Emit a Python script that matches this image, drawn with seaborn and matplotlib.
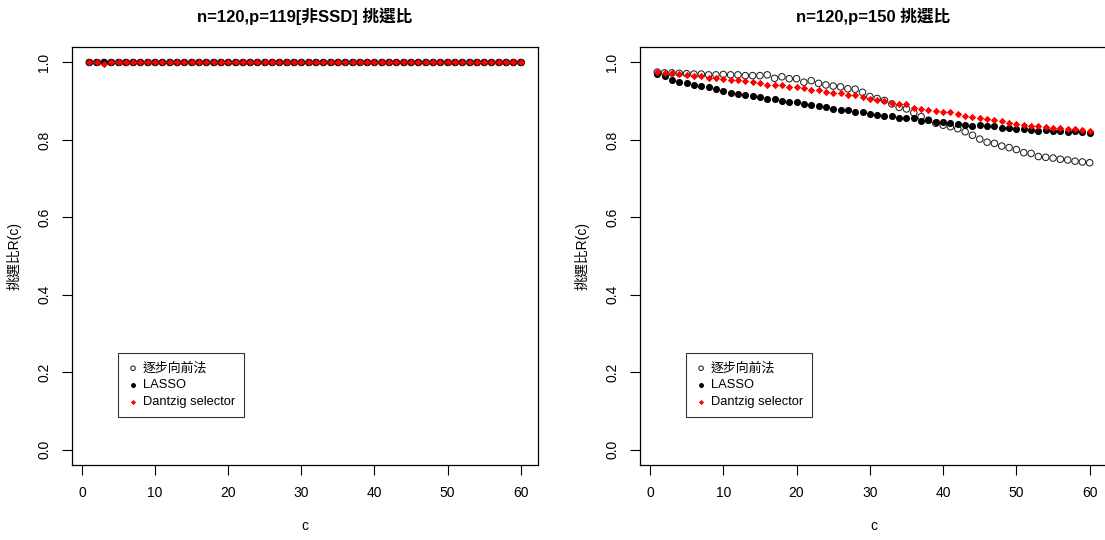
import matplotlib
matplotlib.use("Agg")
import matplotlib.pyplot as plt
import seaborn as sns
import pandas as pd
import numpy as np

# ---- data -------------------------------------------------------------
c_values = list(range(1, 61))

# n=120, p=119 (non-SSD): every method selects all active factors
left_stepwise = [1.0] * 60
left_lasso = [1.0] * 60
left_dantzig = [1.0, 1.0, 0.997] + [1.0] * 57

# n=120, p=150
right_stepwise = [
    0.975, 0.973, 0.973, 0.972, 0.971, 0.970, 0.970, 0.968, 0.968, 0.969,
    0.968, 0.968, 0.966, 0.966, 0.966, 0.968, 0.959, 0.963, 0.958, 0.958,
    0.949, 0.953, 0.946, 0.942, 0.939, 0.937, 0.932, 0.931, 0.923, 0.912,
    0.907, 0.902, 0.893, 0.884, 0.880, 0.870, 0.860, 0.851, 0.843, 0.838,
    0.834, 0.829, 0.821, 0.812, 0.802, 0.794, 0.791, 0.784, 0.780, 0.775,
    0.767, 0.765, 0.757, 0.755, 0.753, 0.750, 0.748, 0.745, 0.743, 0.741,
]
right_lasso = [
    0.969, 0.966, 0.954, 0.950, 0.946, 0.942, 0.940, 0.936, 0.932, 0.926,
    0.922, 0.919, 0.916, 0.914, 0.912, 0.906, 0.905, 0.901, 0.898, 0.898,
    0.892, 0.889, 0.887, 0.886, 0.879, 0.877, 0.877, 0.873, 0.872, 0.866,
    0.864, 0.861, 0.861, 0.857, 0.856, 0.857, 0.850, 0.852, 0.847, 0.847,
    0.844, 0.842, 0.838, 0.836, 0.838, 0.837, 0.836, 0.831, 0.831, 0.829,
    0.829, 0.825, 0.824, 0.825, 0.822, 0.823, 0.820, 0.822, 0.821, 0.819,
]
right_dantzig = [
    0.975, 0.973, 0.972, 0.970, 0.968, 0.966, 0.965, 0.961, 0.959, 0.958,
    0.956, 0.954, 0.953, 0.949, 0.946, 0.942, 0.941, 0.941, 0.937, 0.937,
    0.934, 0.930, 0.929, 0.925, 0.922, 0.920, 0.917, 0.915, 0.911, 0.906,
    0.904, 0.900, 0.895, 0.893, 0.892, 0.883, 0.881, 0.878, 0.874, 0.873,
    0.872, 0.868, 0.862, 0.859, 0.857, 0.855, 0.851, 0.848, 0.844, 0.841,
    0.839, 0.837, 0.836, 0.834, 0.832, 0.830, 0.829, 0.827, 0.825, 0.824,
]

method_names = ["逐步向前法", "LASSO", "Dantzig selector"]
titles = ["n=120,p=119[非SSD] 挑選比", "n=120,p=150 挑選比"]
x_ticks = [0, 10, 20, 30, 40, 50, 60]
y_ticks = [0.0, 0.2, 0.4, 0.6, 0.8, 1.0]
y_tick_labels = ["0.0", "0.2", "0.4", "0.6", "0.8", "1.0"]
x_label = "c"
y_label = "挑選比R(c)"

# ---- style ------------------------------------------------------------
sns.set_style("white")
FAM = ["Liberation Sans", "Noto Sans CJK TC", "DejaVu Sans"]
plt.rcParams["font.family"] = FAM
for key in ["text.color", "axes.labelcolor", "xtick.color", "ytick.color"]:
    plt.rcParams[key] = "black"

marker_styles = [
    dict(marker="o", facecolor="none", edgecolor="#222222", linewidth=0.75, s=22),
    dict(marker="o", color="black", edgecolor="black", linewidth=0, s=26),
    dict(marker="D", color="red", edgecolor="red", linewidth=0, s=14),
]

fig = plt.figure(figsize=(11.05, 5.40), dpi=100)
W, H = 1105.0, 540.0
ax_left = fig.add_axes([72 / W, 75 / H, 466 / W, 418 / H])
ax_right = fig.add_axes([640 / W, 75 / H, 467 / W, 418 / H])

panels = [
    (ax_left, [left_stepwise, left_lasso, left_dantzig], titles[0]),
    (ax_right, [right_stepwise, right_lasso, right_dantzig], titles[1]),
]

for ax, series, title in panels:
    for vals, name, st in zip(series, method_names, marker_styles):
        df = pd.DataFrame({"c": c_values, "R": vals})
        sns.scatterplot(data=df, x="c", y="R", ax=ax, label=name, **st)

    ax.set_xlim(-1.36, 62.36)
    ax.set_ylim(-0.04, 1.04)
    ax.set_xticks(x_ticks)
    ax.set_yticks(y_ticks)
    ax.set_yticklabels(y_tick_labels, rotation=90, va="center")
    ax.tick_params(axis="both", direction="out", length=7, width=0.8,
                   color="black", labelsize=10, pad=8,
                   left=True, bottom=True)
    for sp in ax.spines.values():
        sp.set_visible(True)
        sp.set_color("black")
        sp.set_linewidth(0.9)
    ax.set_xlabel(x_label, fontsize=10, labelpad=14)
    ax.set_ylabel(y_label, fontsize=10, labelpad=11)
    ax.set_title(title, fontsize=12, fontweight="bold", pad=18)

    leg = ax.legend(loc="upper left", bbox_to_anchor=(0.099, 0.268),
                    fontsize=9.3, frameon=True, fancybox=False,
                    edgecolor="black", borderpad=0.7, handletextpad=0.3,
                    labelspacing=0.36, handlelength=0.9, borderaxespad=0,
                    markerscale=0.7)
    leg.get_frame().set_linewidth(0.8)
    for t in leg.get_texts():
        t.set_family(FAM)

fig.savefig("out.png", dpi=100, facecolor="white")
